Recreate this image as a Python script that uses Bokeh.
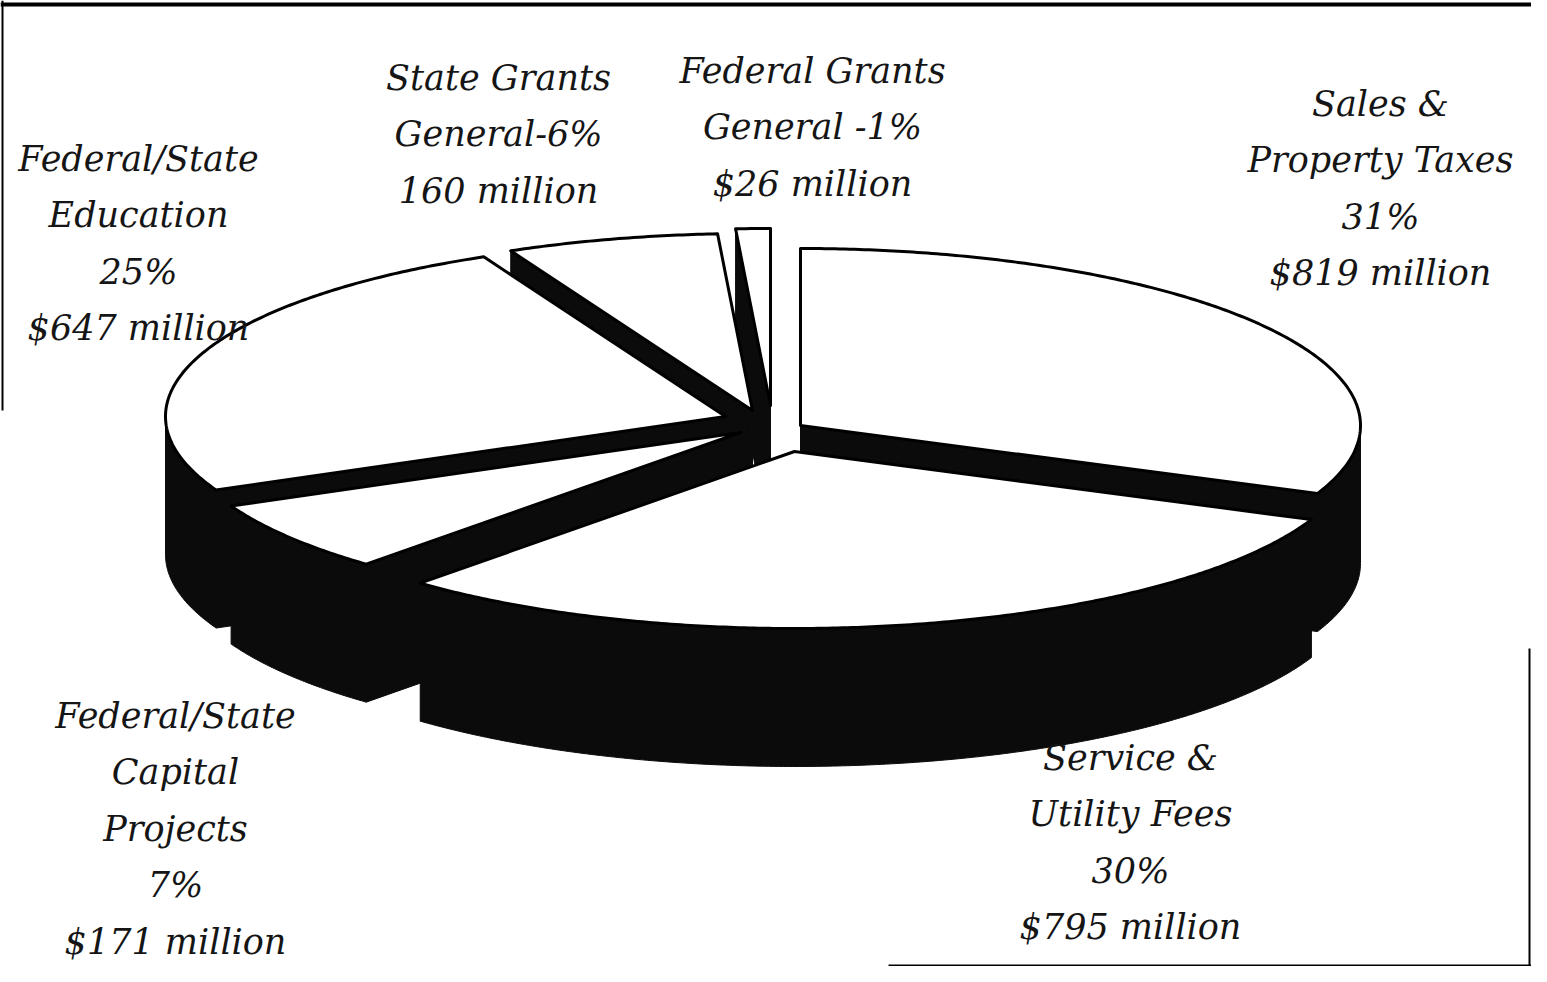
import numpy as np
from bokeh.plotting import figure
from bokeh.models import Range1d, ColumnDataSource
from bokeh.embed import file_html
from bokeh.resources import INLINE
from bokeh.core.properties import value

# ---------------- data ----------------
categories = ["Sales & Property Taxes", "Service & Utility Fees",
              "Federal/State Capital Projects", "Federal/State Education",
              "State Grants General", "Federal Grants General"]
amounts_millions = [819, 795, 171, 647, 160, 26]
percents = [31, 30, 7, 25, 6, 1]
label_lines = [
    ["Sales &", "Property Taxes", "31%", "$819 million"],
    ["Service &", "Utility Fees", "30%", "$795 million"],
    ["Federal/State", "Capital", "Projects", "7%", "$171 million"],
    ["Federal/State", "Education", "25%", "$647 million"],
    ["State Grants", "General-6%", "160 million"],
    ["Federal Grants", "General -1%", "$26 million"],
]

# ---------------- layout (pixels) ----------------
W, H = 1531, 966
CX, CY = 765, 425          # pie centre
RX, RY = 560, 177          # ellipse radii of the top face
DEPTH = 138                # extrusion depth
EXPLODE = [(35, 0), (29, 26), (-25, 7), (-40, -9), (-13, -15), (5, -20)]
LABEL_POS = [(1380, 103), (1130, 757), (175, 715), (138, 158), (498, 77), (812, 70)]
LINE_STEP = 56.5


def hull(points):
    pts = sorted(set(points))
    if len(pts) <= 2:
        return pts
    def cross(o, a, b):
        return (a[0]-o[0])*(b[1]-o[1]) - (a[1]-o[1])*(b[0]-o[0])
    lower, upper = [], []
    for pt in pts:
        while len(lower) >= 2 and cross(lower[-2], lower[-1], pt) <= 0:
            lower.pop()
        lower.append(pt)
    for pt in reversed(pts):
        while len(upper) >= 2 and cross(upper[-2], upper[-1], pt) <= 0:
            upper.pop()
        upper.append(pt)
    return lower[:-1] + upper[:-1]


vals = np.array(amounts_millions, dtype=float)
frac = vals / vals.sum()
ends = np.cumsum(frac) * 360.0
starts = ends - frac * 360.0

top_xs, top_ys, wall_xs, wall_ys = [], [], [], []
for i in range(len(vals)):
    a0, a1 = starts[i], ends[i]
    n = max(8, int((a1 - a0) * 2))
    t = np.radians(np.linspace(a0, a1, n))
    vx = CX + EXPLODE[i][0]
    vy = CY + EXPLODE[i][1]
    xs = [vx] + list(vx + RX * np.sin(t))
    ys = [vy] + list(vy - RY * np.cos(t))
    top_xs.append(xs)
    top_ys.append(ys)
    pts = [(round(x, 3), round(y, 3)) for x, y in zip(xs, ys)]
    pts += [(x, round(y + DEPTH, 3)) for x, y in pts]
    h = hull(pts)
    wall_xs.append([q[0] for q in h])
    wall_ys.append([q[1] for q in h])

p = figure(width=W, height=H, output_backend="svg", toolbar_location=None,
           x_range=Range1d(0, W), y_range=Range1d(H, 0),
           x_axis_location=None, y_axis_location=None, min_border=0,
           outline_line_color=None, background_fill_color="white")
p.grid.grid_line_color = None

# frame remnants of the scanned page
p.line([0, W], [4, 4], line_color="black", line_width=4)
p.line([2, 2], [0, 410], line_color="black", line_width=2)
p.line([1529, 1529], [648, 965], line_color="black", line_width=2)
p.line([888, W], [965, 965], line_color="black", line_width=2)

# side walls (dark), then top faces
p.patches(wall_xs, wall_ys, fill_color="#0b0b0b", line_color="#0b0b0b", line_width=1)
p.patches(top_xs, top_ys, fill_color="white", line_color="black", line_width=3,
          line_join="round")

# labels
tx, ty, tt = [], [], []
for (lx, ly), lines in zip(LABEL_POS, label_lines):
    for k, s in enumerate(lines):
        tx.append(lx)
        ty.append(ly + k * LINE_STEP)
        tt.append(s)
src = ColumnDataSource(dict(x=tx, y=ty, text=tt))
p.text(x="x", y="y", text="text", source=src, text_align="center",
       text_baseline="middle", text_font=value("DejaVu Serif"),
       text_font_style="italic", text_font_size="35px", text_color="#151515")

open("out.html", "w").write(file_html(p, INLINE))
